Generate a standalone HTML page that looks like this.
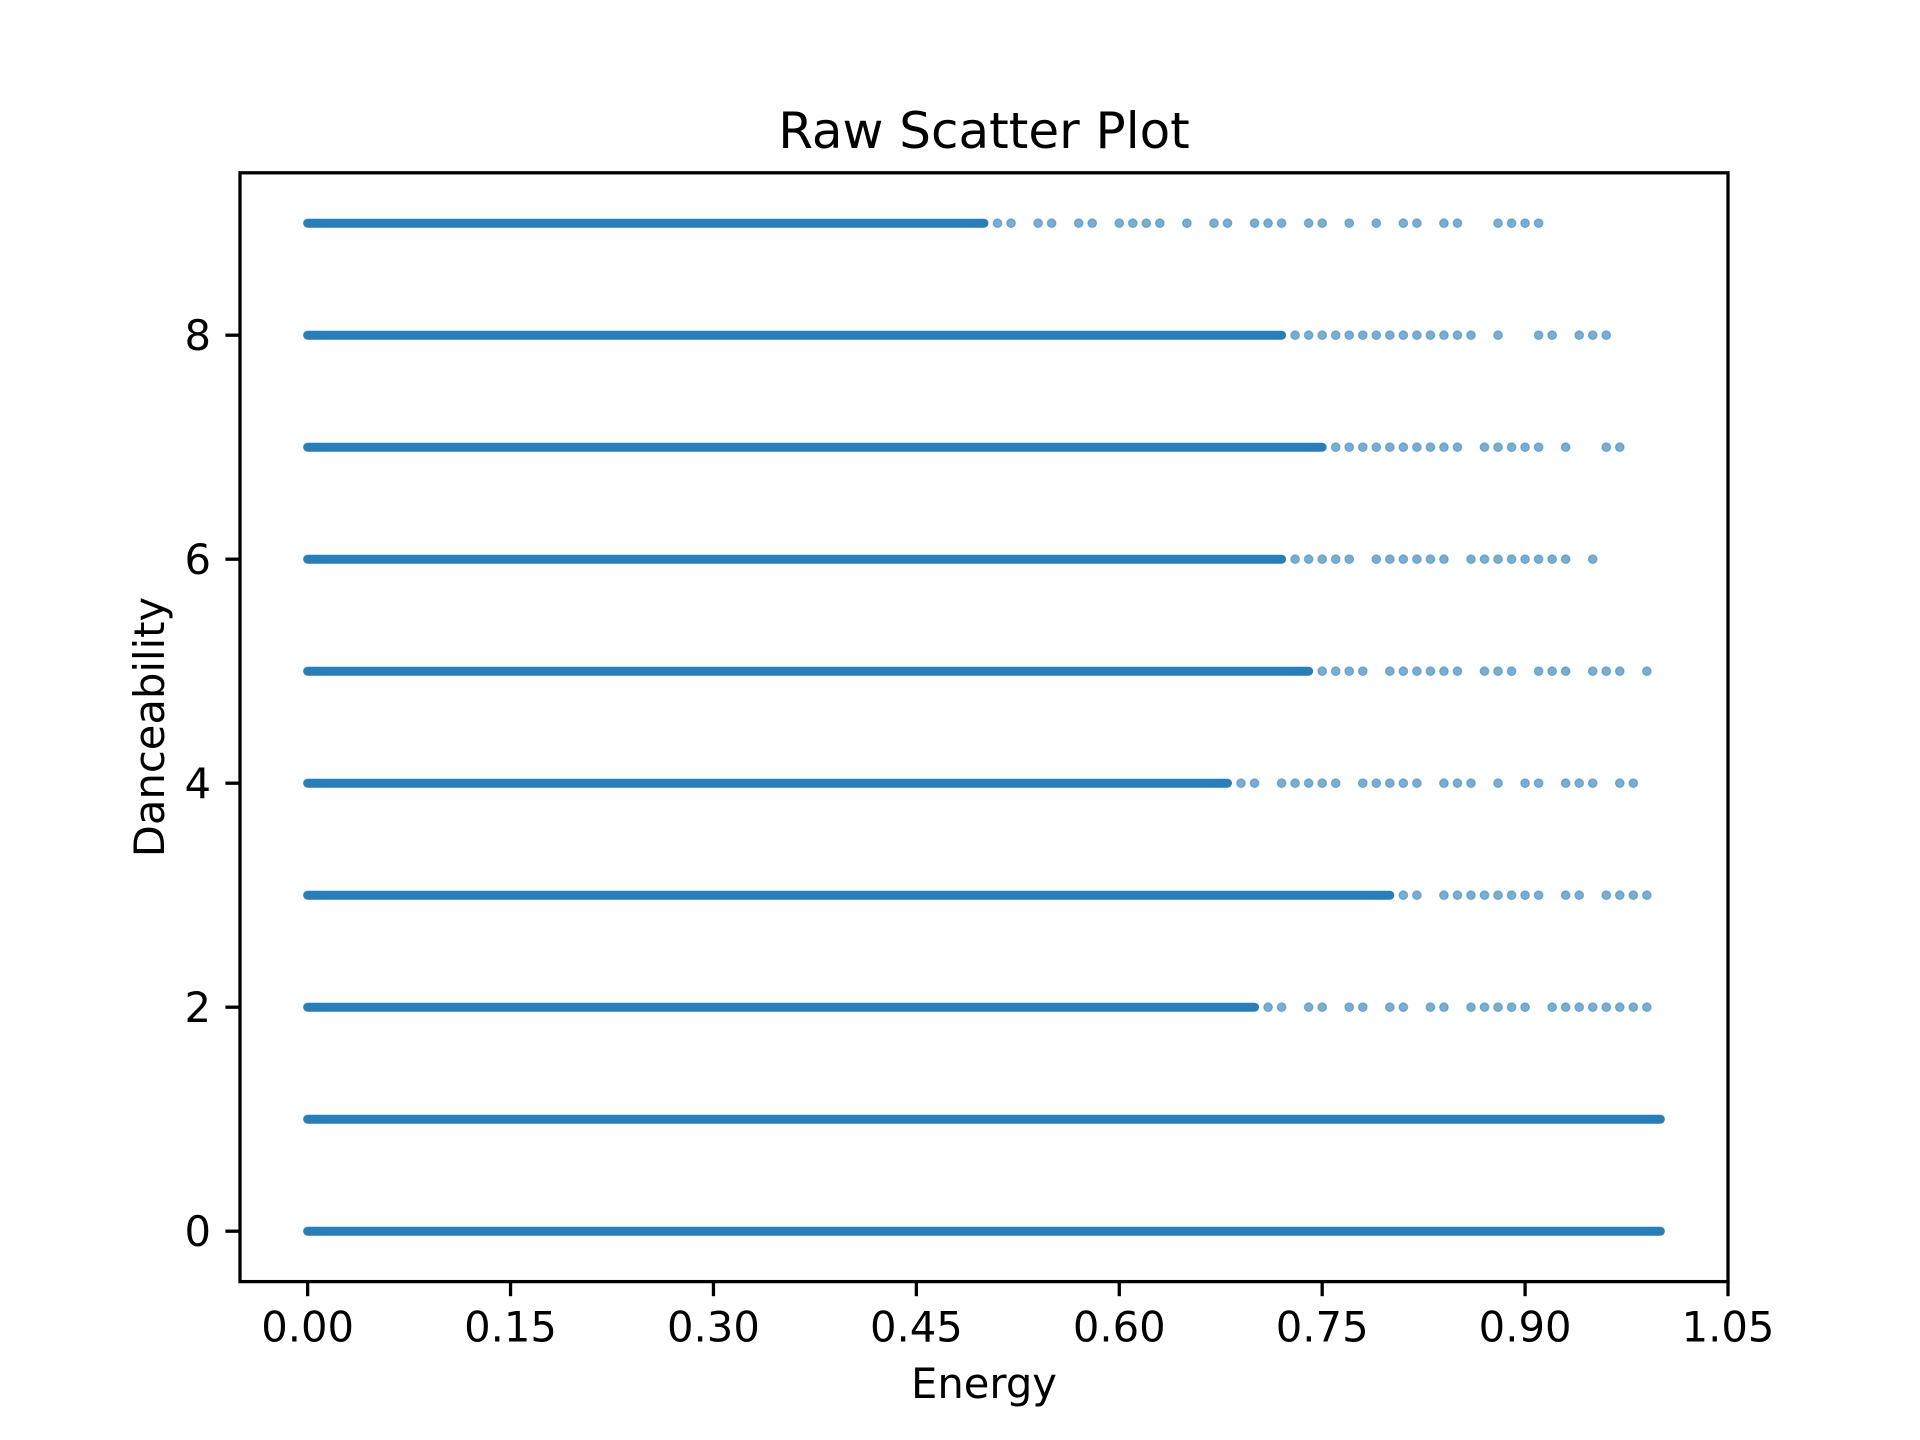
<!DOCTYPE html>
<html><head><meta charset="utf-8"><style>
html,body{margin:0;padding:0;background:#fff;}
svg{display:block;font-family:"DejaVu Sans","Liberation Sans",sans-serif;}
</style></head><body>
<svg id="chart" width="1920" height="1440" viewBox="0 0 1920 1440" xmlns="http://www.w3.org/2000/svg">
<rect width="1920" height="1440" fill="#fff"/>
<text x="984" y="148" font-size="50" text-anchor="middle" fill="#000">Raw Scatter Plot</text>
<g id="marks"></g>
<g id="axes"></g>
<text x="984" y="1398" font-size="41.7" text-anchor="middle" fill="#000">Energy</text>
<text transform="translate(164,727) rotate(-90)" font-size="41.7" text-anchor="middle" fill="#000">Danceability</text>
</svg>
<script>
const rows = [0,1,2,3,4,5,6,7,8,9];
const denseEnd = [1.00,1.00,0.70,0.80,0.68,0.74,0.72,0.75,0.72,0.50];
const tail0 = [];
const tail1 = [];
const tail2 = [0.71,0.72,0.74,0.75,0.77,0.78,0.80,0.81,0.83,0.84,0.86,0.87,0.88,0.89,0.90,0.92,0.93,0.94,0.95,0.96,0.97,0.98,0.99];
const tail3 = [0.81,0.82,0.84,0.85,0.86,0.87,0.88,0.89,0.90,0.91,0.93,0.94,0.96,0.97,0.98,0.99];
const tail4 = [0.69,0.70,0.72,0.73,0.74,0.75,0.76,0.78,0.79,0.80,0.81,0.82,0.84,0.85,0.86,0.88,0.90,0.91,0.93,0.94,0.95,0.97,0.98];
const tail5 = [0.75,0.76,0.77,0.78,0.80,0.81,0.82,0.83,0.84,0.85,0.87,0.88,0.89,0.91,0.92,0.93,0.95,0.96,0.97,0.99];
const tail6 = [0.73,0.74,0.75,0.76,0.77,0.79,0.80,0.81,0.82,0.83,0.84,0.86,0.87,0.88,0.89,0.90,0.91,0.92,0.93,0.95];
const tail7 = [0.76,0.77,0.78,0.79,0.80,0.81,0.82,0.83,0.84,0.85,0.87,0.88,0.89,0.90,0.91,0.93,0.96,0.97];
const tail8 = [0.73,0.74,0.75,0.76,0.77,0.78,0.79,0.80,0.81,0.82,0.83,0.84,0.85,0.86,0.88,0.91,0.92,0.94,0.95,0.96];
const tail9 = [0.51,0.52,0.54,0.55,0.57,0.58,0.60,0.61,0.62,0.63,0.65,0.67,0.68,0.70,0.71,0.72,0.74,0.75,0.77,0.79,0.81,0.82,0.84,0.85,0.88,0.89,0.90,0.91];
const tails = [tail0,tail1,tail2,tail3,tail4,tail5,tail6,tail7,tail8,tail9];
const xTicks = [0,0.15,0.30,0.45,0.60,0.75,0.90,1.05];
const xTickLabels = ["0.00","0.15","0.30","0.45","0.60","0.75","0.90","1.05"];
const yTicks = [0,2,4,6,8];
const yTickLabels = ["0","2","4","6","8"];

const L=240,R=1728,T=172.8,B=1281.6;
const xmin=-0.05,xmax=1.05,ymin=-0.45,ymax=9.45;
const sx=v=>L+(v-xmin)/(xmax-xmin)*(R-L);
const sy=v=>B-(v-ymin)/(ymax-ymin)*(B-T);
const NS="http://www.w3.org/2000/svg";
const marks=document.getElementById('marks');
const axes=document.getElementById('axes');
function mk(tag,attrs,parent){const e=document.createElementNS(NS,tag);for(const k in attrs)e.setAttribute(k,attrs[k]);parent.appendChild(e);return e;}

rows.forEach((r,i)=>{
  const ln=mk('line',{x1:sx(0),x2:sx(denseEnd[i]),y1:sy(r),y2:sy(r),stroke:'#1f77b4','stroke-width':9,'stroke-linecap':'round','stroke-opacity':0.95},marks);
  
  
  tails[i].forEach(x=>{
    const c=mk('circle',{cx:sx(x),cy:sy(r),r:4.3,fill:'#1f77b4','fill-opacity':0.6,stroke:'#1f77b4','stroke-opacity':0.45,'stroke-width':1.2},marks);
    
    
  });
});

const fr=mk('rect',{x:L,y:T,width:R-L,height:B-T,fill:'none',stroke:'#000','stroke-width':3.3},axes);


xTicks.forEach((v,i)=>{
  const t=mk('line',{x1:sx(v),x2:sx(v),y1:B,y2:B+14.6,stroke:'#000','stroke-width':3.3},axes);
  
  
  const tx=mk('text',{x:sx(v),y:B+60,'font-size':41.7,'text-anchor':'middle',fill:'#000'},axes);
  tx.textContent=xTickLabels[i];
  
  
});
yTicks.forEach((v,i)=>{
  const t=mk('line',{x1:L,x2:L-14.6,y1:sy(v),y2:sy(v),stroke:'#000','stroke-width':3.3},axes);
  
  
  const tx=mk('text',{x:L-29,y:sy(v)+15,'font-size':41.7,'text-anchor':'end',fill:'#000'},axes);
  tx.textContent=yTickLabels[i];
  
  
});
</script>
</body></html>
